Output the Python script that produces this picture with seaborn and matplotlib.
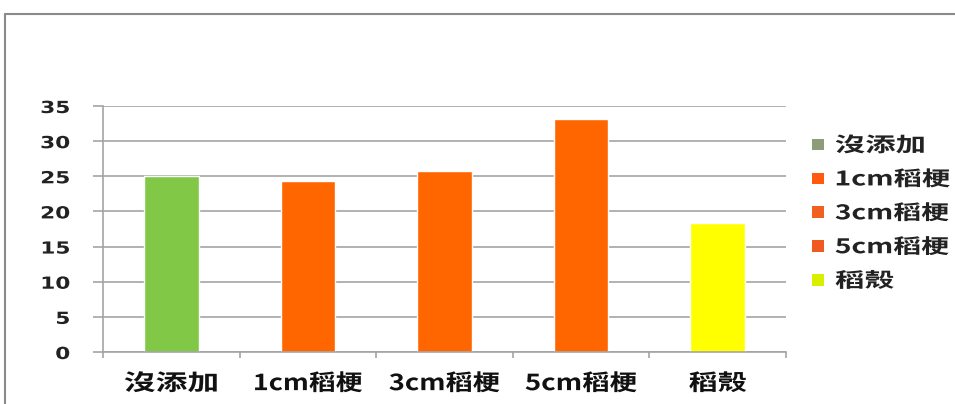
import matplotlib
matplotlib.use("Agg")
import matplotlib.pyplot as plt
import seaborn as sns
from matplotlib.patches import Patch
from matplotlib.lines import Line2D
from matplotlib.patheffects import AbstractPathEffect
from matplotlib.transforms import Affine2D

categories = ["沒添加", "1cm稻梗", "3cm稻梗", "5cm稻梗", "稻殼"]
values = [25.1, 24.3, 25.7, 33.2, 18.3]
colors = ["#80C846", "#FF6600", "#FF6600", "#FF6600", "#FFFF00"]
legend_colors = ["#8E9C78", "#FF5A10", "#F06020", "#F05A20", "#D8F000"]
yticks = [0, 5, 10, 15, 20, 25, 30, 35]

# rendered text widths (px) seen in the reference (text is horizontally stretched)
xlabel_widths = [92, 107, 110, 111, 57]
legend_widths = [88, 113, 113, 113, 58]


class Stretch(AbstractPathEffect):
    """Stretch text horizontally (by factor or to a target pixel width)."""
    def __init__(self, sx=None, width_px=None, anchor="center"):
        super().__init__()
        self.sx = sx
        self.width_px = width_px
        self.anchor = anchor

    def draw_path(self, renderer, gc, tpath, affine, rgbFace=None):
        ext = tpath.get_extents()
        sx = self.sx
        if self.width_px is not None:
            scale = abs(affine.get_matrix()[0, 0])
            natural = ext.width * scale
            sx = self.width_px / natural if natural > 0 else 1.0
        if self.anchor == "left":
            cx = ext.x0
        elif self.anchor == "right":
            cx = ext.x1
        else:
            cx = (ext.x0 + ext.x1) / 2
        t = Affine2D().translate(-cx, 0).scale(sx, 1).translate(cx, 0) + affine
        renderer.draw_path(gc, tpath, t, rgbFace)


sns.set_theme(style="white")
plt.rcParams['font.family'] = ['Noto Sans CJK TC', 'DejaVu Sans']

fig = plt.figure(figsize=(9.55, 4.04), dpi=100)
ax = fig.add_axes([103/955, 1-352/404, (786-103)/955, (352-106)/404])

sns.barplot(x=categories, y=values, hue=categories, palette=colors,
            width=0.4, dodge=False, legend=False, ax=ax, saturation=1)

ax.set_ylim(0, 35)
ax.set_xlim(-0.5, 4.5)
ax.set_yticks(yticks)
ax.set_yticklabels([str(v) for v in yticks])
for lbl in ax.get_yticklabels():
    lbl.set_family(["DejaVu Sans"])
    lbl.set_fontsize(12)
    lbl.set_fontweight("bold")
    lbl.set_color("#222222")
    lbl.set_path_effects([Stretch(sx=1.3, anchor="right")])
ax.set_xticks(range(len(categories)))
ax.set_xticklabels(categories)
for lbl, w in zip(ax.get_xticklabels(), xlabel_widths):
    lbl.set_fontsize(16)
    lbl.set_fontweight("bold")
    lbl.set_color("#111111")
    lbl.set_path_effects([Stretch(width_px=w, anchor="center")])
ax.set_xlabel("")
ax.set_ylabel("")

ax.yaxis.grid(True, color="#A4A4A4", linewidth=1.2)
ax.set_axisbelow(True)
for s in ["top", "right"]:
    ax.spines[s].set_visible(False)
ax.spines["left"].set_color("#A4A4A4")
ax.spines["bottom"].set_color("#A4A4A4")
ax.spines["left"].set_linewidth(1.2)
ax.spines["bottom"].set_linewidth(1.2)

ax.tick_params(axis="y", which="major", left=True, length=7.2, width=1.2, color="#A4A4A4", pad=16.6)
ax.tick_params(axis="x", which="major", bottom=False, length=0, pad=14.5)
ax.set_xticks([i - 0.5 for i in range(len(categories) + 1)], minor=True)
ax.tick_params(axis="x", which="minor", bottom=True, length=4, width=1.2, color="#A4A4A4")

handles = [Patch(facecolor=c, edgecolor="none") for c in legend_colors]
leg = ax.legend(handles, categories, loc="upper left", bbox_to_anchor=(1.038, 0.884),
                frameon=False, fontsize=14.5, handlelength=0.6, handleheight=0.5,
                handletextpad=0.55, labelspacing=0.64, borderaxespad=0, borderpad=0)
for t, w in zip(leg.get_texts(), legend_widths):
    t.set_fontweight("bold")
    t.set_color("#222222")
    t.set_path_effects([Stretch(width_px=w, anchor="left")])

fig.add_artist(Line2D([5/955, 5/955], [0, 1-14/404], transform=fig.transFigure,
                      color="#8A8A8A", linewidth=1.5))
fig.add_artist(Line2D([5/955, 1], [1-14/404, 1-14/404], transform=fig.transFigure,
                      color="#8A8A8A", linewidth=1.5))

fig.savefig("out.png", dpi=100, facecolor="white")
